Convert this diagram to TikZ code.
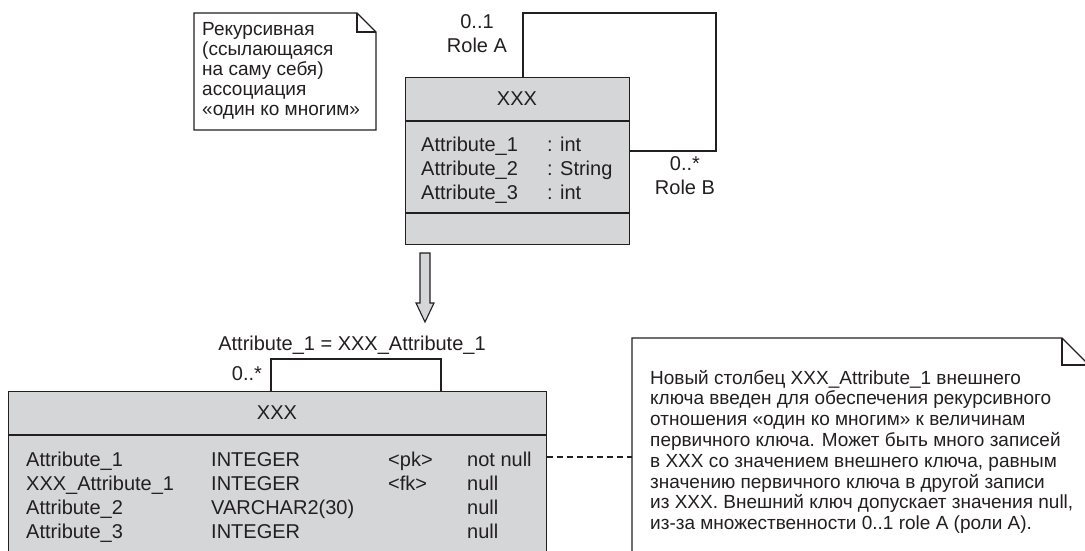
\documentclass[tikz,border=0pt]{standalone}
\usepackage{fontspec}
\setmainfont{Liberation Sans}
\usepackage{xcolor}
\usepackage{tikz}
\usetikzlibrary{positioning}
\definecolor{umlfill}{HTML}{D5D6D8}
\definecolor{umlline}{HTML}{231F20}

\begin{document}
\begin{tikzpicture}[x=1pt, y=-1pt,
  lbl/.style={text=umlline, inner sep=0pt, font=\fontsize{20}{22}\selectfont},
  notelbl/.style={text=umlline, inner sep=0pt, font=\fontsize{19}{21}\selectfont},
  classbox/.style={draw=umlline, fill=umlfill, line width=1.3pt, inner sep=0pt},
  link/.style={draw=umlline, line width=1.3pt}]
\useasboundingbox (0,0) rectangle (1085,550);
\clip (0,0) rectangle (1085,550);

% note with folded corner
\draw[link, fill=white] (194,13) -- (357,13) -- (376,32) -- (376,130) -- (194,130) -- cycle;
\draw[link] (357,13) |- (376,32);
\foreach \i/\t in {0/Рекурсивная, 1/(ссылающаяся, 2/на саму себя), 3/ассоциация, 4/«один ко многим»} {
  \node[notelbl, anchor=base west] (tn\i) at (202,{35+20*\i}) {\t};
}

% class XXX
\node[classbox, minimum width=224pt, minimum height=167pt, anchor=north west] (cls) at (405,77) {};
\draw[link] (cls.west |- 0,121) -- (cls.east |- 0,121);
\draw[link] (cls.west |- 0,213) -- (cls.east |- 0,213);
\node[lbl] (clsname) at (517,99) {XXX};
\foreach \i/\nm/\tp in {0/Attribute\_1/: int, 1/Attribute\_2/: String, 2/Attribute\_3/: int} {
  \node[lbl, anchor=base west] (an\i) at (421,{151+24*\i}) {\nm};
  \node[lbl, anchor=base west] (at\i) at (547,{151+24*\i}) {\tp};
}

% recursive association
\coordinate (roleA) at (523,77);
\coordinate (roleB) at (629,151);
\draw[link] (roleA) -- (523,13) -- (716,13) |- (roleB);
\node[lbl, anchor=base] (multA) at (477,28) {0..1};
\node[lbl, anchor=base] (nameA) at (477,52) {Role A};
\node[lbl, anchor=base] (multB) at (685,170) {0..*};
\node[lbl, anchor=base] (nameB) at (685,194) {Role B};

% transformation arrow
\draw[link, fill=umlfill, line width=1.1pt] (420,253) -- (430,253) -- (430,303) -- (434,303)
  -- (425,322) -- (416,303) -- (420,303) -- cycle;

% table XXX
\node[classbox, minimum width=538pt, minimum height=180pt, anchor=north west] (tbl) at (8,391) {};
\draw[link] (tbl.west |- 0,435) -- (tbl.east |- 0,435);
\node[lbl] (tblname) at (277,413) {XXX};
\foreach \i/\a/\b/\c/\d in {0/Attribute\_1/INTEGER/<pk>/not null,
                            1/XXX\_Attribute\_1/INTEGER/<fk>/null,
                            2/Attribute\_2/VARCHAR2(30)//null,
                            3/Attribute\_3/INTEGER//null} {
  \node[lbl, anchor=base west] (col\i) at (26,{466+24.3*\i}) {\a};
  \node[lbl, anchor=base west] (typ\i) at (211,{466+24.3*\i}) {\b};
  \node[lbl, anchor=base west] (key\i) at (388,{466+24.3*\i}) {\c};
  \node[lbl, anchor=base west] (nul\i) at (467,{466+24.3*\i}) {\d};
}

% foreign key self reference
\coordinate (fkA) at (271,391);
\coordinate (fkB) at (441,391);
\draw[link] (fkA) -- (271,359) -- (441,359) -- (fkB);
\node[lbl, anchor=base] (fkmult) at (247,380) {0..*};
\node[lbl, anchor=base] (fkrule) at (352,350) {Attribute\_1 = XXX\_Attribute\_1};

% explanatory note
\draw[link, fill=white] (632,560) -- (632,338) -- (1062,338) -- (1089,365) -- (1089,560);
\draw[link] (1062,338) |- (1089,365);
\coordinate (notepin) at (632,457);
\draw[link, dash pattern=on 6pt off 4pt] (tbl.east |- notepin) -- (notepin);
\foreach \i/\t in {0/Новый столбец XXX\_Attribute\_1 внешнего,
                   1/ключа введен для обеспечения рекурсивного,
                   2/отношения «один ко многим» к величинам,
                   3/первичного ключа. Может быть много записей,
                   4/в XXX со значением внешнего ключа{,} равным,
                   5/значению первичного ключа в другой записи,
                   6/из XXX. Внешний ключ допускает значения null{,},
                   7/из-за множественности 0..1 role A (роли A).} {
  \node[notelbl, anchor=base west] (nt\i) at (650,{384+20.8*\i}) {\t};
}
\end{tikzpicture}
\end{document}
